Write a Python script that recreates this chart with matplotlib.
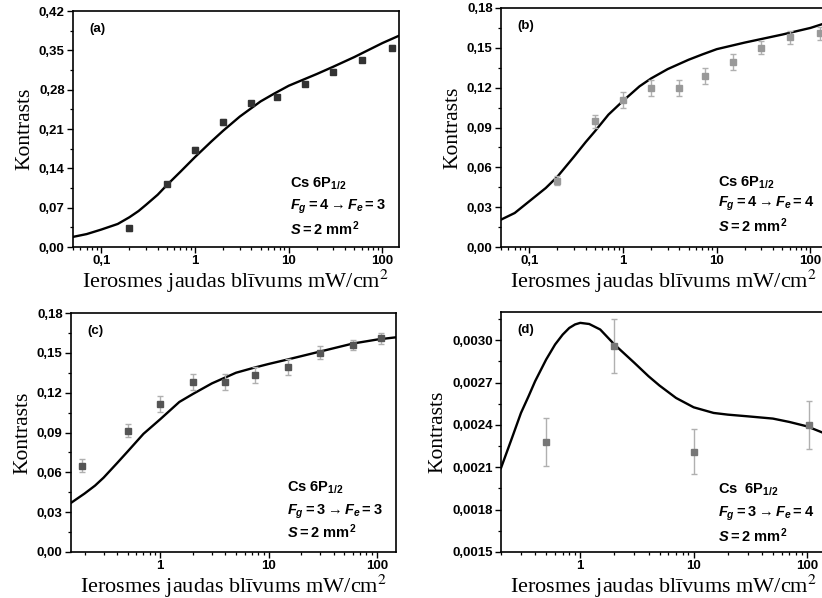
import numpy as np
import matplotlib
matplotlib.use("Agg")
import matplotlib.pyplot as plt
from matplotlib.ticker import FixedLocator, LogLocator, NullFormatter

plt.rcParams['font.family'] = ['Liberation Sans', 'DejaVu Sans']
plt.rcParams['mathtext.fontset'] = 'custom'
plt.rcParams['mathtext.rm'] = 'Liberation Sans:bold'
plt.rcParams['mathtext.it'] = 'Liberation Sans:bold:italic'
plt.rcParams['mathtext.bf'] = 'Liberation Sans:bold'

# (a) Fg=4 -> Fe=3
a_x = [0.2, 0.5, 1, 2, 4, 7.5, 15, 30, 60, 125]
a_y = [0.033, 0.112, 0.173, 0.222, 0.256, 0.267, 0.290, 0.312, 0.333, 0.355]
a_err = [0.004, 0.004, 0.005, 0.005, 0.004, 0.004, 0.004, 0.004, 0.004, 0.004]
a_cx = [0.05, 0.07, 0.1, 0.15, 0.2, 0.25, 0.3, 0.4, 0.5, 0.7, 1, 1.5, 2, 3, 5, 7, 10,
        20, 30, 50, 100, 150]
a_cy = [0.018, 0.023, 0.031, 0.041, 0.053, 0.064, 0.075, 0.093, 0.110, 0.134, 0.160,
        0.188, 0.207, 0.232, 0.259, 0.273, 0.287, 0.308, 0.321, 0.338, 0.363, 0.376]

# (b) Fg=4 -> Fe=4
b_x = [0.2, 0.5, 1, 2, 4, 7.5, 15, 30, 60, 125]
b_y = [0.050, 0.0947, 0.111, 0.120, 0.120, 0.129, 0.139, 0.150, 0.158, 0.161]
b_err = [0.0035, 0.005, 0.006, 0.006, 0.006, 0.006, 0.006, 0.005, 0.005, 0.005]
b_cx = [0.05, 0.07, 0.1, 0.15, 0.2, 0.3, 0.4, 0.5, 0.7, 1, 1.5, 2, 3, 5, 7, 10, 20,
        50, 100, 150]
b_cy = [0.0206, 0.0256, 0.0344, 0.0444, 0.053, 0.068, 0.079, 0.087, 0.0997, 0.110,
        0.121, 0.127, 0.134, 0.141, 0.145, 0.149, 0.154, 0.160, 0.165, 0.169]

# (c) Fg=3 -> Fe=3
c_x = [0.19, 0.5, 1, 2, 4, 7.5, 15, 30, 60, 110]
c_y = [0.065, 0.0915, 0.1116, 0.128, 0.128, 0.1334, 0.139, 0.150, 0.156, 0.161]
c_err = [0.005, 0.005, 0.006, 0.006, 0.006, 0.006, 0.006, 0.005, 0.004, 0.004]
c_cx = [0.15, 0.2, 0.25, 0.3, 0.4, 0.5, 0.7, 1, 1.5, 2, 3, 5, 7.5, 10, 15, 30, 60,
        100, 150]
c_cy = [0.037, 0.044, 0.050, 0.056, 0.067, 0.0757, 0.089, 0.100, 0.113, 0.119, 0.127,
        0.135, 0.139, 0.1416, 0.145, 0.151, 0.157, 0.160, 0.1617]

# (d) Fg=3 -> Fe=4
d_x = [0.5, 2, 10, 105]
d_y = [0.00228, 0.00296, 0.00221, 0.00240]
d_err = [0.00017, 0.00019, 0.00016, 0.00017]
d_cx = [0.2, 0.25, 0.3, 0.35, 0.4, 0.5, 0.6, 0.7, 0.8, 0.9, 1, 1.2, 1.5, 2, 3, 4, 5,
        7, 10, 15, 20, 30, 50, 70, 100, 140]
d_cy = [0.002095, 0.002308, 0.002485, 0.002603, 0.00271, 0.002863, 0.00297, 0.00304,
        0.003087, 0.003112, 0.003123, 0.003115, 0.003076, 0.00297, 0.00284, 0.002745,
        0.002679, 0.002591, 0.002525, 0.002485, 0.002473, 0.002461, 0.002445,
        0.002421, 0.00239, 0.002343]

W, H = 822, 598
xlabel = r"Ierosmes jaudas blīvums mW/cm$^2$"


def panel(box, x, y, err, col, cx, cy, xlim, yticks, ylim, ndec, xticks, xlabs, tag, lines, ly):
    l, r, t, b = box
    ax = fig.add_axes([l / W, 1 - b / H, (r - l) / W, (b - t) / H])
    ax.plot(cx, cy, color="black", lw=1.7, zorder=2)
    ax.errorbar(x, y, yerr=err, fmt="s", color=col, ms=5, ecolor="#b0b0b0",
                elinewidth=1.0, capsize=2.5, capthick=1.0, zorder=3)
    ax.set_xscale("log")
    ax.set_xlim(*xlim)
    ax.set_ylim(*ylim)
    ax.set_xticks(xticks)
    ax.set_xticklabels(xlabs)
    ax.xaxis.set_minor_locator(LogLocator(base=10, subs=np.arange(2, 10)))
    ax.xaxis.set_minor_formatter(NullFormatter())
    ax.set_yticks(yticks)
    ax.set_yticklabels([f"{v:.{ndec}f}".replace(".", ",") for v in yticks])
    step = yticks[1] - yticks[0]
    ax.yaxis.set_minor_locator(FixedLocator([v + step / 2 for v in yticks]))
    ax.tick_params(which="major", direction="out", length=4, width=1.0, pad=2,
                   labelsize=9.5, top=False, right=False)
    ax.tick_params(which="minor", direction="out", length=2.2, width=0.9,
                   top=False, right=False)
    for lab in ax.get_xticklabels() + ax.get_yticklabels():
        lab.set_fontweight("bold")
    for s in ax.spines.values():
        s.set_linewidth(1.2)
    ax.set_ylabel("Kontrasts", family="Liberation Serif", fontsize=15.5, labelpad=3)
    ax.set_xlabel(xlabel, family="Liberation Serif", fontsize=16, labelpad=0,
                  math_fontfamily="stix")
    ax.text(0.05, 0.925, tag, transform=ax.transAxes, fontsize=9.5,
            fontweight="bold", va="center")
    for txt, yy in zip(lines, ly):
        ax.text(0.665, yy, txt, transform=ax.transAxes, fontsize=10.5,
                fontweight="bold", va="center")
    return ax


fig = plt.figure(figsize=(W / 100, H / 100), dpi=100)

yt_a = [0.0, 0.07, 0.14, 0.21, 0.28, 0.35, 0.42]
yt_b = [0.0, 0.03, 0.06, 0.09, 0.12, 0.15, 0.18]
yt_d = [0.0015, 0.0018, 0.0021, 0.0024, 0.0027, 0.0030]

panel((73, 399, 11, 247), a_x, a_y, a_err, "#333333", a_cx, a_cy, (0.05, 150),
      yt_a, (0, 0.42), 2, [0.1, 1, 10, 100], ["0,1", "1", "10", "100"], "(a)",
      [r"Cs 6P$_{\mathrm{1/2}}$", r"$F_g = 4 \rightarrow F_e = 3$", r"$S = 2\ \mathrm{mm}^2$"],
      [0.267, 0.17, 0.076])
panel((501, 827, 8, 247), b_x, b_y, b_err, "#999999", b_cx, b_cy, (0.05, 150),
      yt_b, (0, 0.18), 2, [0.1, 1, 10, 100], ["0,1", "1", "10", "100"], "(b)",
      [r"Cs 6P$_{\mathrm{1/2}}$", r"$F_g = 4 \rightarrow F_e = 4$", r"$S = 2\ \mathrm{mm}^2$"],
      [0.27, 0.18, 0.088])
panel((71, 396, 313, 552), c_x, c_y, c_err, "#555555", c_cx, c_cy, (0.15, 150),
      yt_b, (0, 0.18), 2, [1, 10, 100], ["1", "10", "100"], "(c)",
      [r"Cs 6P$_{\mathrm{1/2}}$", r"$F_g = 3 \rightarrow F_e = 3$", r"$S = 2\ \mathrm{mm}^2$"],
      [0.268, 0.167, 0.084])
panel((501, 827, 312, 552), d_x, d_y, d_err, "#777777", d_cx, d_cy, (0.2, 150),
      yt_d, (0.0015, 0.0032), 4, [1, 10, 100], ["1", "10", "100"], "(d)",
      [r"Cs  6P$_{\mathrm{1/2}}$", r"$F_g = 3 \rightarrow F_e = 4$", r"$S = 2\ \mathrm{mm}^2$"],
      [0.26, 0.16, 0.067])

fig.savefig("out.png", dpi=100)
